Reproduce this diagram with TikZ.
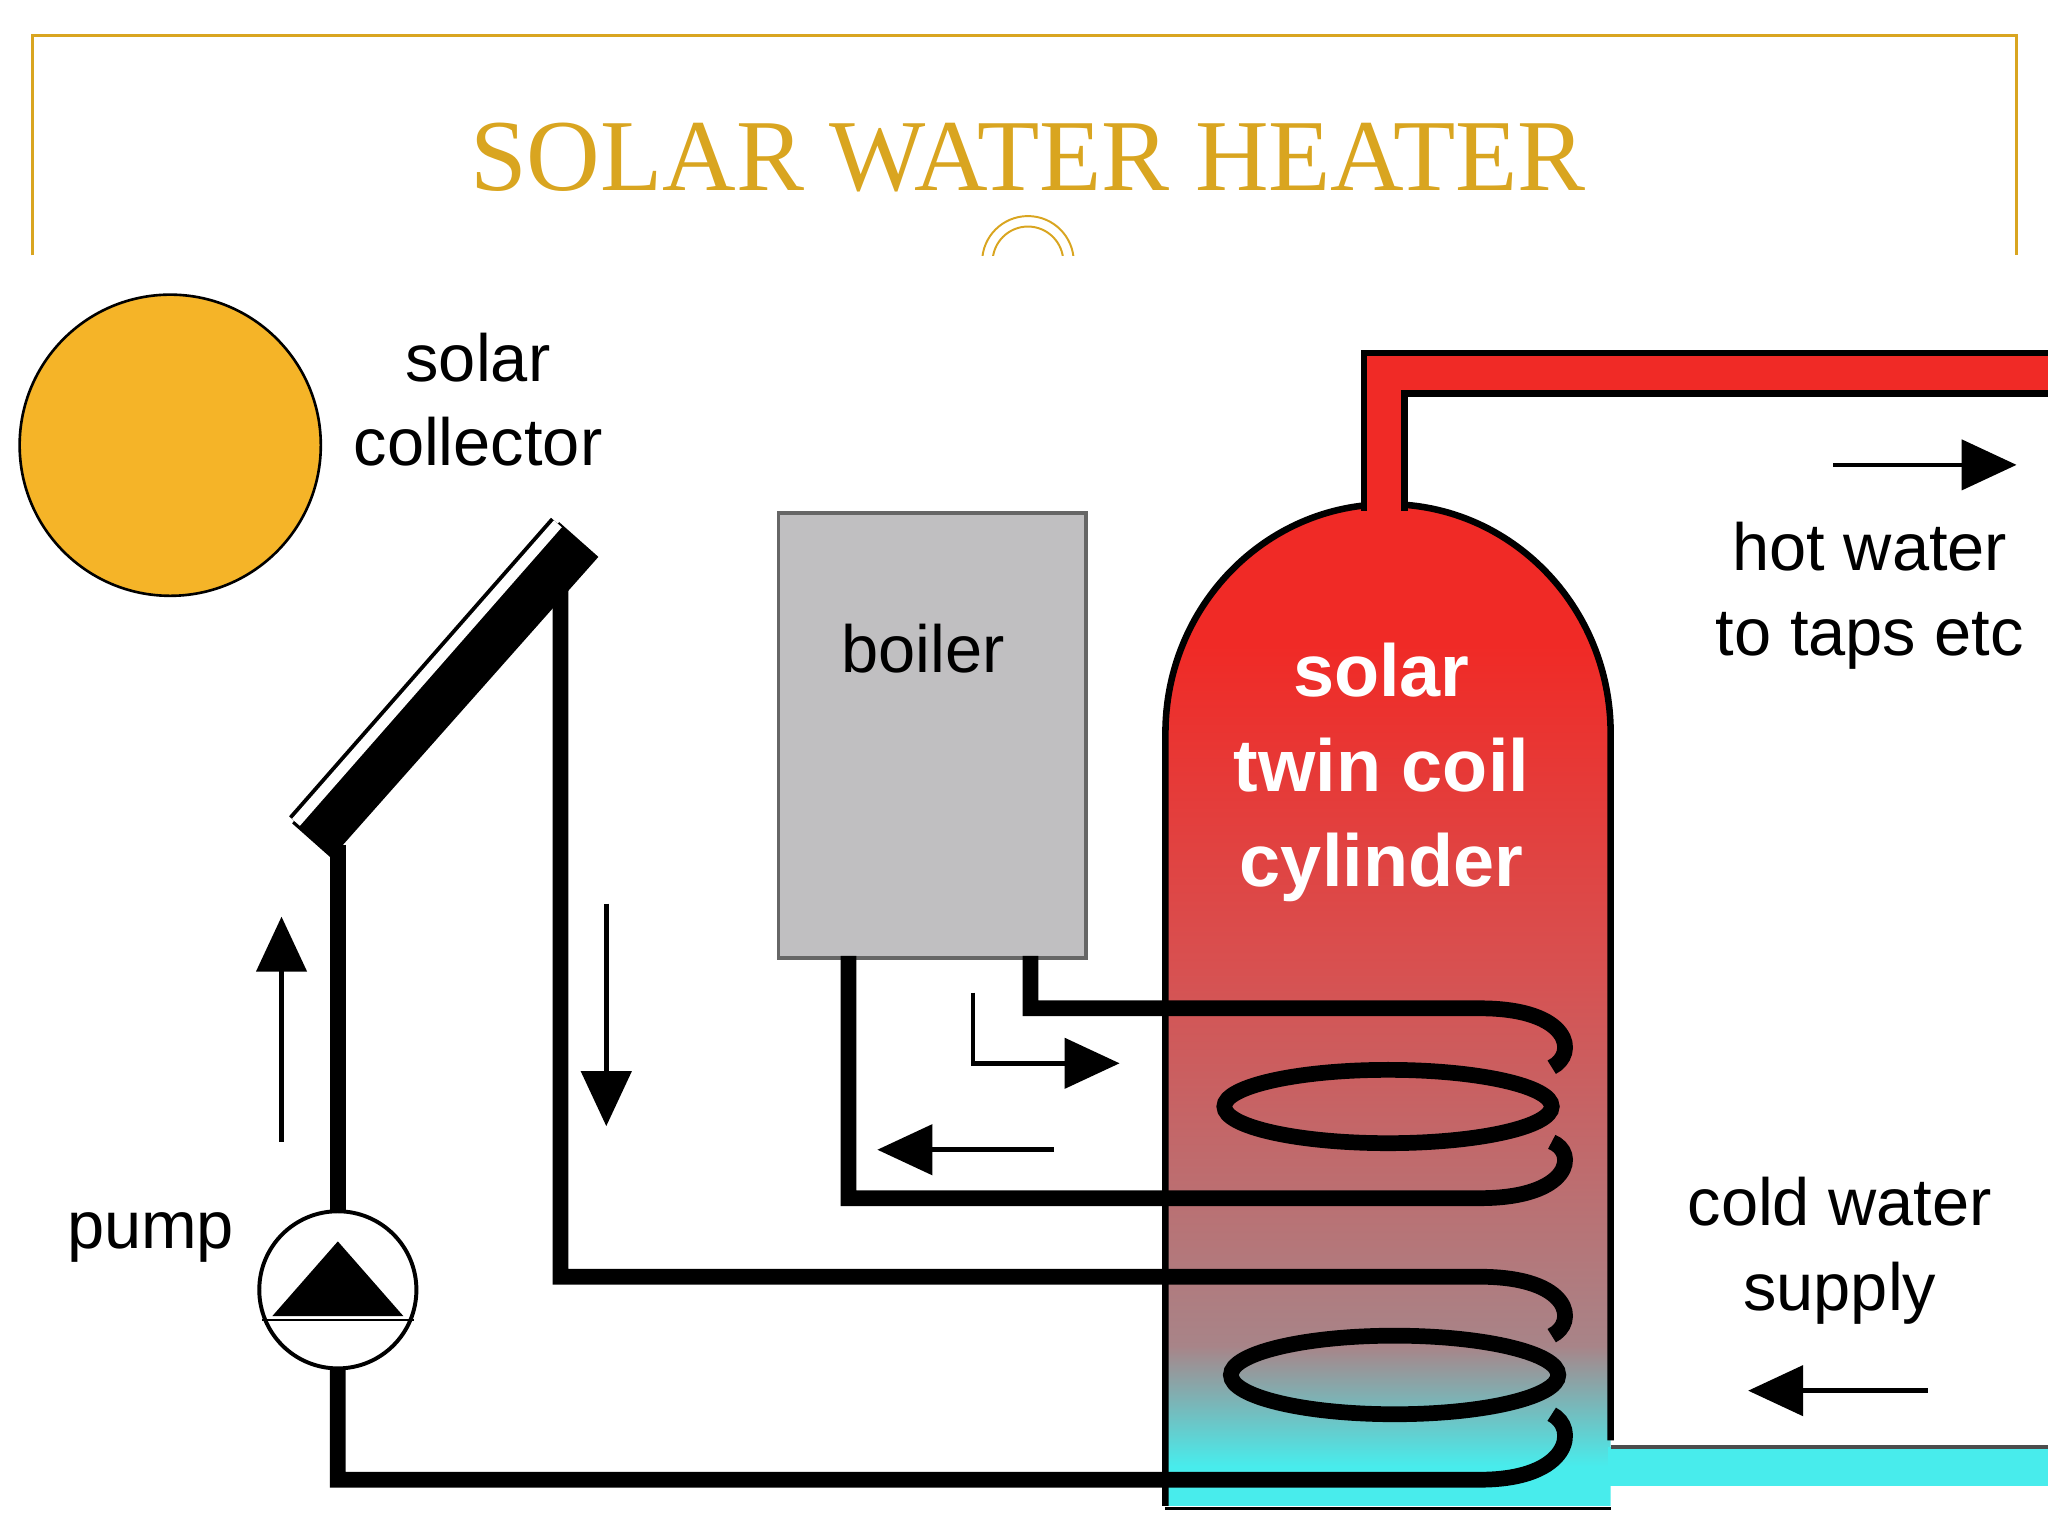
\documentclass[tikz,border=0pt]{standalone}
\usepackage{fontspec}
\setsansfont{Liberation Sans}
\setmainfont{Liberation Serif}
\usetikzlibrary{arrows.meta}
\definecolor{gold}{HTML}{D9A520}
\definecolor{sunc}{HTML}{F5B428}
\definecolor{redA}{HTML}{F02A26}
\definecolor{redB}{HTML}{D85050}
\definecolor{mauve}{HTML}{A88488}
\definecolor{cyanA}{HTML}{48ECEC}
\definecolor{boilc}{HTML}{C0BFC1}
\pgfdeclareverticalshading{cyl}{100bp}{color(0bp)=(cyanA); color(27bp)=(cyanA); color(33bp)=(mauve); color(52bp)=(redB); color(68bp)=(redA); color(100bp)=(redA)}
\begin{document}
\begin{tikzpicture}[x=0.013095cm,y=-0.013095cm,
  pipe/.style={line width=12*0.013095cm,black},
  thin arrow/.style={line width=3.5*0.013095cm,-{Triangle[length=0.55cm,width=0.5cm]}},
  lbl/.style={font=\sffamily\fontsize{19}{24}\selectfont,align=center,inner sep=0pt}]
\useasboundingbox (0,0) rectangle (1564,1173);
% frame and title
\draw[gold,line width=2*0.013095cm] (25,195)--(25,27)--(1540,27)--(1540,195);
\node[font=\rmfamily\fontsize{29}{34}\selectfont,text=gold] (title) at (785,120) {SOLAR WATER HEATER};
\begin{scope}
\clip (700,150) rectangle (870,195);
\draw[gold,line width=1.5*0.013095cm] (750,200) arc[start angle=180,end angle=360,radius=35];
\draw[gold,line width=1.5*0.013095cm] (758,200) arc[start angle=180,end angle=360,radius=27];
\end{scope}
% sun
\node[circle,draw=black,line width=2*0.013095cm,fill=sunc,minimum size=230*0.013095cm] (sun) at (130,340) {};
\node[lbl] (sc) at (365,305) {solar\\collector};
% cylinder
\path[shade,shading=cyl] (890,1150)--(890,560) arc[start angle=180,end angle=360,x radius=170,y radius=175]--(1230,1150)--cycle;
\draw[black,line width=5*0.013095cm] (890,1150)--(890,560) arc[start angle=180,end angle=360,x radius=170,y radius=175]--(1230,1100);
\draw[black,line width=3*0.013095cm] (890,1152)--(1230,1152);
% hot pipe
\coordinate (ct) at (1057,390);
\coordinate (hotend) at (1564,285);
\draw[black,line width=36*0.013095cm] (ct)--(1057,285)--(hotend);
\draw[redA,line width=26*0.013095cm] (1057,395)--(1057,285)--(1570,285);
% cold pipe
\fill[cyanA] (1228,1105) rectangle (1564,1135);
\draw[black!70,line width=3*0.013095cm] (1230,1105)--(1564,1105);
% collector
\draw[black,line width=40*0.013095cm] (238,642)--(442,412);
\draw[black,line width=14*0.013095cm] (226,628)--(426,400);
\draw[white,line width=8*0.013095cm] (226,628)--(426,400);
% solar circuit
\coordinate (pumpc) at (258,985);
\draw[pipe] (258,645)--(258,925);
\draw[pipe] (258,1045)--(258,1130)--(1130,1130) .. controls (1200,1130) and (1205,1090) .. (1185,1080);
\draw[pipe] (428,430)--(428,975)--(1130,975) .. controls (1200,975) and (1205,1010) .. (1185,1020);
\draw[pipe] (1065,1050) ellipse[x radius=125,y radius=30];
% pump
\node[circle,draw=black,line width=3*0.013095cm,fill=white,minimum size=120*0.013095cm] (pump) at (pumpc) {};
\fill[black] (208,1005)--(308,1005)--(258,948)--cycle;
\draw[black,line width=2*0.013095cm] (200,1008)--(316,1008);
\node[lbl] (pl) at (115,945) {pump};
% boiler
\node[draw=black!60,line width=3*0.013095cm,fill=boilc,minimum width=235*0.013095cm,minimum height=340*0.013095cm,anchor=north west] (boiler) at (593,390) {};
\node[lbl] (bl) at (705,495) {boiler};
\draw[pipe] (787,730)--(787,770)--(1130,770) .. controls (1200,770) and (1205,805) .. (1185,815);
\draw[pipe] (648,730)--(648,915)--(1130,915) .. controls (1200,915) and (1205,880) .. (1185,872);
\draw[pipe] (1060,845) ellipse[x radius=125,y radius=28];
% texts
\node[lbl,text=white,font=\sffamily\bfseries\fontsize{21}{27}\selectfont] (cl) at (1055,590) {solar\\twin coil\\cylinder};
\node[lbl] (hw) at (1428,455) {hot water\\to taps etc};
\node[lbl] (cw) at (1405,955) {cold water\\supply};
% arrows
\coordinate (a1) at (1400,355); \coordinate (a2) at (1540,355);
\draw[thin arrow] (a1)--(a2);
\coordinate (b1) at (1472,1062); \coordinate (b2) at (1335,1062);
\draw[thin arrow] (b1)--(b2);
\coordinate (u1) at (215,872); \coordinate (u2) at (215,700);
\draw[thin arrow] (u1)--(u2);
\coordinate (d1) at (463,690); \coordinate (d2) at (463,860);
\draw[thin arrow] (d1)--(d2);
\coordinate (l1) at (743,758); \coordinate (l2) at (855,812);
\draw[thin arrow] (l1)--(743,812)--(l2);
\coordinate (r1) at (805,878); \coordinate (r2) at (670,878);
\draw[thin arrow] (r1)--(r2);
\end{tikzpicture}
\end{document}
